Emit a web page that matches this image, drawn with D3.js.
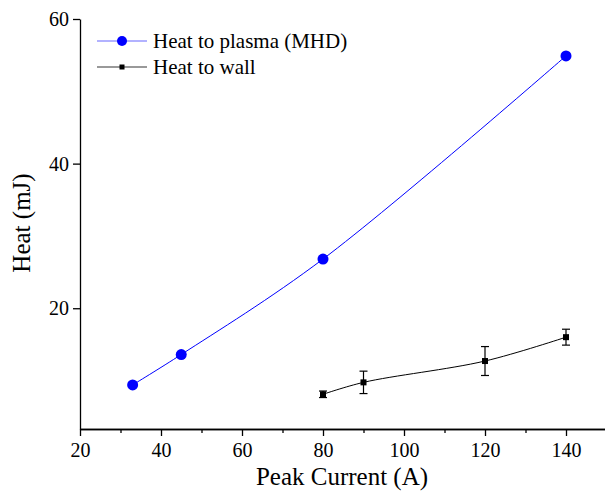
<!DOCTYPE html>
<html>
<head>
<meta charset="utf-8">
<script src="https://cdn.jsdelivr.net/npm/d3@7"></script>
<style>
	body { margin: 0; background: #fff; }
	svg text { font-family: "Liberation Serif", "Times New Roman", serif; }
</style>
</head>
<body>
<div id="chart-area"></div>
<script>
// data
let plasmaCurrent = [33, 45, 80, 140];
let plasmaHeat = [9.4, 13.6, 26.8, 54.9];

let wallCurrent = [80, 90, 120, 140];
let wallHeat = [8.1, 9.75, 12.7, 16.0];
let wallErr = [0.45, 1.55, 2.0, 1.1];

let xTicks = [20, 40, 60, 80, 100, 120, 140];
let xMinor = [30, 50, 70, 90, 110, 130, 150];
let yTicks = [20, 40, 60];

let legendNames = ["Heat to plasma (MHD)", "Heat to wall"];

// SVG Size
let width = 605,
	height = 493;

let svg = d3.select("#chart-area").append("svg")
	.attr("width", width)
	.attr("height", height);

let xScale = d3.scaleLinear()
	.domain([20, 150])
	.range([80, 606.5]);

let yScale = d3.scaleLinear()
	.domain([3.3, 60])
	.range([429, 19]);

// axes
let xaxis = d3.axisBottom(xScale)
	.tickValues(xTicks)
	.tickSize(7)
	.tickPadding(7)
	.tickSizeOuter(0);

let xaxisMinor = d3.axisBottom(xScale)
	.tickValues(xMinor)
	.tickSize(4)
	.tickFormat(() => "")
	.tickSizeOuter(0);

let yaxis = d3.axisLeft(yScale)
	.tickValues(yTicks)
	.tickSize(7)
	.tickPadding(4)
	.tickSizeOuter(0);

svg.append("g")
	.attr("transform", "translate(0," + yScale.range()[0] + ")")
	.call(xaxisMinor);

let gx = svg.append("g")
	.attr("transform", "translate(0," + yScale.range()[0] + ")")
	.call(xaxis);

let gy = svg.append("g")
	.attr("transform", "translate(" + xScale.range()[0] + ",0)")
	.call(yaxis);

svg.selectAll(".domain, .tick line")
	.attr("stroke", "#000")
	.attr("stroke-width", 1.3);

svg.selectAll(".tick text")
	.style("font-size", "20px")
	.style("font-family", "'Liberation Serif', serif")
	.attr("fill", "#000");

// axis titles
svg.append("text")
	.attr("x", 342)
	.attr("y", 485)
	.attr("text-anchor", "middle")
	.style("font-size", "25px")
	.text("Peak Current (A)");

svg.append("text")
	.attr("transform", "rotate(-90)")
	.attr("x", -223)
	.attr("y", 30)
	.attr("text-anchor", "middle")
	.style("font-size", "25px")
	.text("Heat (mJ)");

// lines
let plasmaData = plasmaCurrent.map((c, i) => ({x: c, y: plasmaHeat[i]}));
let wallData = wallCurrent.map((c, i) => ({x: c, y: wallHeat[i], e: wallErr[i]}));

let line = d3.line()
	.x(d => xScale(d.x))
	.y(d => yScale(d.y))
	.curve(d3.curveCatmullRom);

svg.append("path")
	.datum(plasmaData)
	.attr("d", line)
	.attr("fill", "none")
	.attr("stroke", "#0000ff")
	.attr("stroke-width", 1);

svg.append("path")
	.datum(wallData)
	.attr("d", line)
	.attr("fill", "none")
	.attr("stroke", "#000")
	.attr("stroke-width", 1);

// error bars
let err = svg.append("g")
	.attr("stroke", "#000")
	.attr("stroke-width", 1.2);

err.selectAll(".bar")
	.data(wallData)
	.enter()
	.append("line")
	.attr("x1", d => xScale(d.x))
	.attr("x2", d => xScale(d.x))
	.attr("y1", d => yScale(d.y - d.e))
	.attr("y2", d => yScale(d.y + d.e));

err.selectAll(".cap-top")
	.data(wallData)
	.enter()
	.append("line")
	.attr("x1", d => xScale(d.x) - 4)
	.attr("x2", d => xScale(d.x) + 4)
	.attr("y1", d => yScale(d.y + d.e))
	.attr("y2", d => yScale(d.y + d.e));

err.selectAll(".cap-bot")
	.data(wallData)
	.enter()
	.append("line")
	.attr("x1", d => xScale(d.x) - 4)
	.attr("x2", d => xScale(d.x) + 4)
	.attr("y1", d => yScale(d.y - d.e))
	.attr("y2", d => yScale(d.y - d.e));

// markers
svg.selectAll(".plasma")
	.data(plasmaData)
	.enter()
	.append("circle")
	.attr("cx", d => xScale(d.x))
	.attr("cy", d => yScale(d.y))
	.attr("r", 5.5)
	.attr("fill", "#0000ff");

svg.selectAll(".wall")
	.data(wallData)
	.enter()
	.append("rect")
	.attr("x", d => xScale(d.x) - 3)
	.attr("y", d => yScale(d.y) - 3)
	.attr("width", 6)
	.attr("height", 6)
	.attr("fill", "#000");

// legend
let legend = svg.append("g");

legend.append("line")
	.attr("x1", 97).attr("x2", 147)
	.attr("y1", 41).attr("y2", 41)
	.attr("stroke", "#0000ff")
	.attr("stroke-opacity", 0.6)
	.attr("stroke-width", 1.2);
legend.append("circle")
	.attr("cx", 122).attr("cy", 41)
	.attr("r", 5)
	.attr("fill", "#0000ff");
legend.append("text")
	.attr("x", 153).attr("y", 48)
	.style("font-size", "21px")
	.text(legendNames[0]);

legend.append("line")
	.attr("x1", 97).attr("x2", 147)
	.attr("y1", 67).attr("y2", 67)
	.attr("stroke", "#000")
	.attr("stroke-opacity", 0.8)
	.attr("stroke-width", 1);
legend.append("rect")
	.attr("x", 119.5).attr("y", 64.5)
	.attr("width", 5).attr("height", 5)
	.attr("fill", "#000");
legend.append("text")
	.attr("x", 153).attr("y", 74)
	.style("font-size", "21px")
	.text(legendNames[1]);
</script>
</body>
</html>
